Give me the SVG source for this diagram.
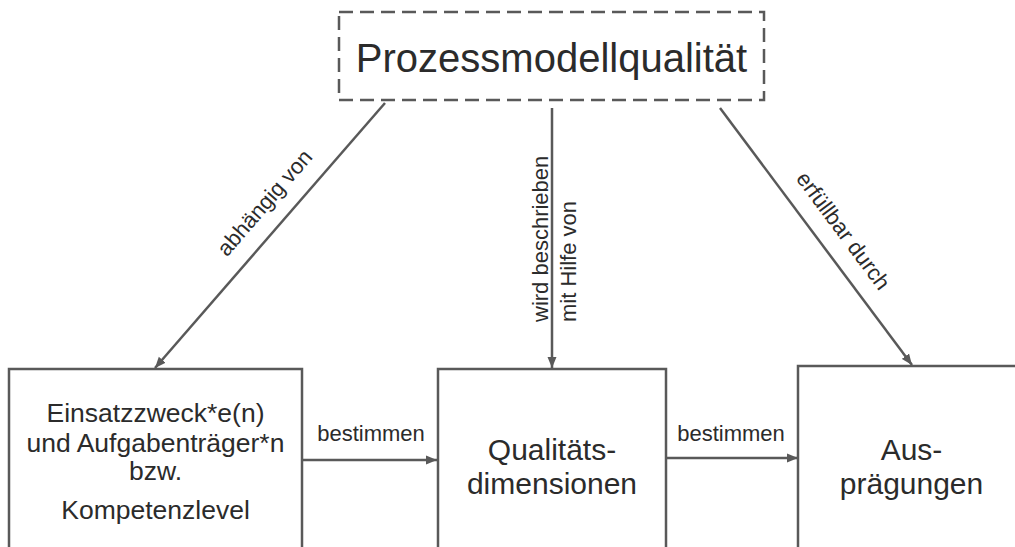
<svg xmlns="http://www.w3.org/2000/svg" width="1015" height="547" viewBox="0 0 1015 547">
<style>
.box{fill:#fff;stroke:#595959;stroke-width:2.5}
.dash{fill:#fff;stroke:#595959;stroke-width:2.5;stroke-dasharray:14 7}
.ln{fill:none;stroke:#595959;stroke-width:2.5}
text{font-family:"Liberation Sans",Arial,sans-serif;fill:#2b2b2b}
.c{text-anchor:middle}
.lbl{font-size:22px}
</style>
<defs>
<marker id="ah" markerUnits="userSpaceOnUse" markerWidth="12" markerHeight="10" refX="11" refY="5" orient="auto">
<path d="M0,0.5 L11,5 L0,9.5 z" fill="#595959"/>
</marker>
</defs>
<rect width="1015" height="547" fill="#fff"/>
<g id="connectors">
<line class="ln" x1="385" y1="103" x2="155" y2="368" marker-end="url(#ah)"/>
<line class="ln" x1="552" y1="108" x2="552" y2="368" marker-end="url(#ah)"/>
<line class="ln" x1="720" y1="108" x2="912" y2="365" marker-end="url(#ah)"/>
<line class="ln" x1="302" y1="460" x2="437" y2="460" marker-end="url(#ah)"/>
<line class="ln" x1="666" y1="458" x2="798" y2="458" marker-end="url(#ah)"/>
<text class="lbl c" transform="translate(265,203) rotate(-49.06)" y="7">abhängig von</text>
<text class="lbl" transform="translate(548,322) rotate(-90)">wird beschrieben</text>
<text class="lbl" transform="translate(576,322) rotate(-90)">mit Hilfe von</text>
<text class="lbl c" transform="translate(843,231) rotate(53.3)" y="7">erfüllbar durch</text>
<text class="lbl c" x="371" y="441">bestimmen</text>
<text class="lbl c" x="731" y="441">bestimmen</text>
</g>
<g id="node-top">
<rect class="dash" x="339" y="12" width="425" height="88"/>
<text class="c" x="551.5" y="72" font-size="40">Prozessmodellqualität</text>
</g>
<g id="node-einsatz">
<rect class="box" x="9" y="369" width="293" height="200"/>
<text class="c" x="155.5" y="422" font-size="26.5">Einsatzzweck*e(n)</text>
<text class="c" x="155.5" y="452" font-size="26.5">und Aufgabenträger*n</text>
<text class="c" x="155.5" y="480" font-size="26.5">bzw.</text>
<text class="c" x="155.5" y="519" font-size="26.5">Kompetenzlevel</text>
</g>
<g id="node-dimensionen">
<rect class="box" x="438" y="369" width="228" height="200"/>
<text class="c" x="552" y="460" font-size="30">Qualitäts-</text>
<text class="c" x="552" y="494" font-size="30">dimensionen</text>
</g>
<g id="node-auspraegungen">
<rect class="box" x="798" y="366" width="240" height="200"/>
<text class="c" x="911.5" y="460" font-size="30">Aus-</text>
<text class="c" x="911.5" y="494" font-size="30">prägungen</text>
</g>
</svg>
